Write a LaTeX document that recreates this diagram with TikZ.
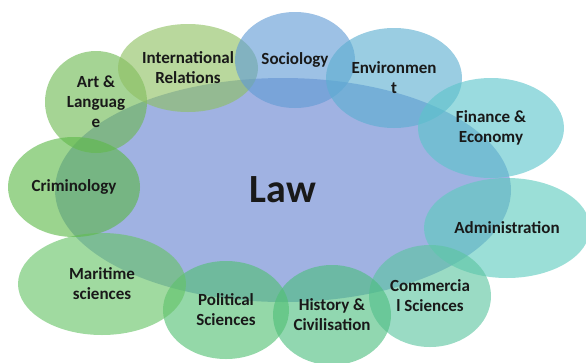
\documentclass[tikz,border=0pt]{standalone}
\usepackage{fontspec}
\setmainfont{Carlito}
\usetikzlibrary{shapes.geometric}

\definecolor{lawblue}{RGB}{102,130,208}
\definecolor{sociocol}{RGB}{97,155,213}
\definecolor{envircol}{RGB}{92,175,208}
\definecolor{financecol}{RGB}{92,197,203}
\definecolor{admincol}{RGB}{93,203,190}
\definecolor{commercecol}{RGB}{92,197,160}
\definecolor{historycol}{RGB}{77,190,127}
\definecolor{politicscol}{RGB}{82,192,115}
\definecolor{maritimecol}{RGB}{102,195,102}
\definecolor{criminocol}{RGB}{93,185,73}
\definecolor{artcol}{RGB}{110,185,83}
\definecolor{intrelcol}{RGB}{142,192,97}

\begin{document}
\begin{tikzpicture}[x=1pt,y=-1pt,
	field/.style={ellipse, fill=#1, fill opacity=0.62, text opacity=1,
		inner sep=0pt, align=center, text=black!90,
		font=\bfseries\fontsize{17}{20}\selectfont}]
	\useasboundingbox (0,0) rectangle (586,362);
	\clip (0,0) rectangle (586,362);
	
	% centre
	\node[field=lawblue, minimum width=456pt, minimum height=224pt,
		font=\bfseries\fontsize{40}{44}\selectfont] (law) at (283,190) {Law};
	
	% fields around
	\node[field=artcol, minimum width=102pt, minimum height=102pt] (art) at (96,102) {Art \&\\Languag\\e};
	\node[field=intrelcol, minimum width=140pt, minimum height=88pt] (intrel) at (188,68) {International\\Relations};
	\node[field=sociocol, minimum width=120pt, minimum height=96pt] (socio) at (295,60) {Sociology};
	\node[field=envircol, minimum width=136pt, minimum height=100pt] (envir) at (394,78) {Environmen\\t};
	\node[field=financecol, minimum width=146pt, minimum height=100pt] (finance) at (491,128) {Finance \&\\Economy};
	\node[field=admincol, minimum width=166pt, minimum height=100pt] (admin) at (507,228) {Administration};
	\node[field=commercecol, minimum width=122pt, minimum height=102pt] (commerce) at (430,296) {Commercia\\l Sciences};
	\node[field=historycol, minimum width=118pt, minimum height=100pt] (history) at (332,315) {History \&\\Civilisation};
	\node[field=politicscol, minimum width=126pt, minimum height=98pt] (politics) at (226,310) {Political\\Sciences};
	\node[field=maritimecol, minimum width=168pt, minimum height=102pt] (maritime) at (102,284) {Maritime\\sciences};
	\node[field=criminocol, minimum width=132pt, minimum height=100pt] (crimino) at (74,187) {Criminology};
\end{tikzpicture}
\end{document}
